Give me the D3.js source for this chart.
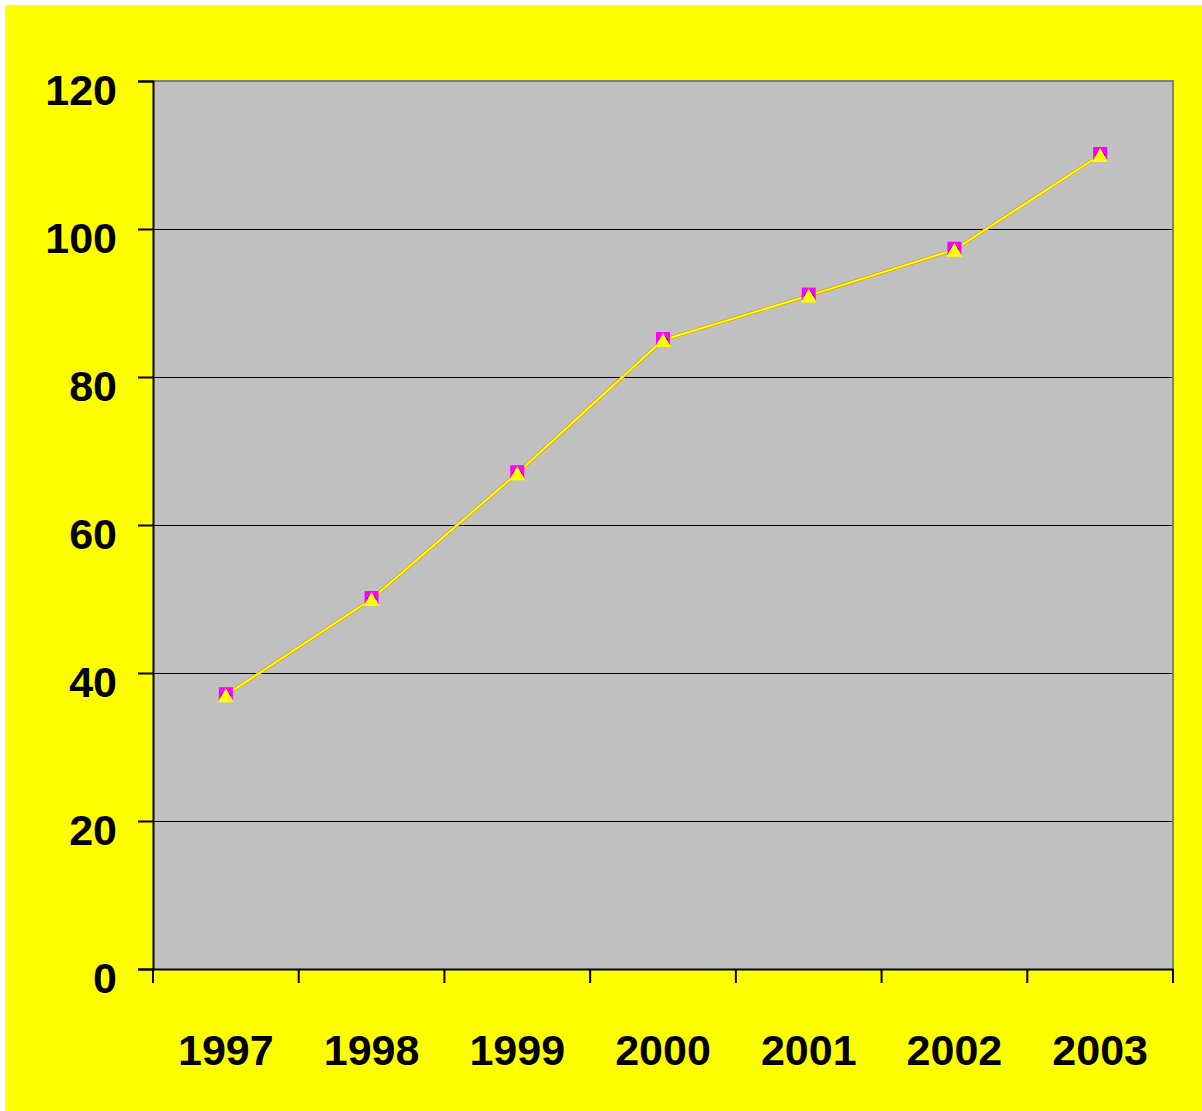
<!DOCTYPE html>
<html><head><meta charset="utf-8">
<script src="https://cdn.jsdelivr.net/npm/d3@7"></script>
<style>html,body{margin:0;padding:0;background:#fff;}svg{display:block;}</style>
</head><body>
<svg id="chart" width="1202" height="1111"></svg>
<script>
const years = ["1997","1998","1999","2000","2001","2002","2003"];
const values = [37, 50, 67, 85, 91, 97.2, 110];
const yTicks = [0, 20, 40, 60, 80, 100, 120];

const svg = d3.select("#chart");
svg.append("rect").attr("x",5).attr("y",5).attr("width",1197).attr("height",1106).attr("fill","#FFFF00");

const L=153, T=81, R=1173, B=969;
const x = d3.scaleBand().domain(years).range([L,R]).padding(0);
const y = d3.scaleLinear().domain([0,120]).range([B,T]);

svg.append("rect").attr("x",L).attr("y",T).attr("width",R-L).attr("height",B-T).attr("fill","#C0C0C0");
// gridlines
svg.append("g").selectAll("line").data(yTicks.filter(d=>d>0&&d<120)).join("line")
  .attr("x1",L).attr("x2",R).attr("y1",d=>y(d)).attr("y2",d=>y(d))
  .attr("stroke","#000").attr("stroke-width",1).attr("shape-rendering","crispEdges");
// plot border top/right gray
svg.append("path").attr("d",`M${L},${T} H${R} V${B}`).attr("fill","none").attr("stroke","#808080").attr("stroke-width",2);

// y axis
const yAxis = d3.axisLeft(y).tickValues(yTicks).tickSize(15).tickPadding(0).tickFormat(d3.format("d"));
const gy = svg.append("g").attr("transform",`translate(${L},0)`).call(yAxis);
gy.select(".domain").attr("stroke","#000").attr("stroke-width",2);
gy.selectAll(".tick line").attr("stroke","#000").attr("stroke-width",2);
gy.selectAll(".tick text").attr("x",-36).attr("dy",null).attr("y",23)
  .attr("font-family","'Liberation Sans', Arial, sans-serif").attr("font-weight","bold")
  .attr("font-size",43).attr("fill","#000").attr("text-anchor","end");

// x axis
const xAxis = d3.axisBottom(x).tickSize(0).tickPadding(0);
const gx = svg.append("g").attr("transform",`translate(0,${B})`).call(xAxis);
gx.select(".domain").attr("stroke","#000").attr("stroke-width",2);
gx.selectAll(".tick text").attr("y",96).attr("dy",null)
  .attr("font-family","'Liberation Sans', Arial, sans-serif").attr("font-weight","bold")
  .attr("font-size",43).attr("fill","#000").attr("text-anchor","middle");
// boundary ticks
const bounds = years.map(d=>x(d)).concat([R]);
svg.append("g").selectAll("line").data(bounds).join("line")
  .attr("x1",d=>d).attr("x2",d=>d).attr("y1",B).attr("y2",B+14)
  .attr("stroke","#000").attr("stroke-width",2);

const cx = d => x(d) + x.bandwidth()/2;
const pts = years.map((d,i)=>[cx(d), y(values[i])]);
const line = d3.line();

// underlying series lines (hidden beneath the yellow series)
svg.append("path").attr("d",line(pts)).attr("fill","none").attr("stroke","#D89A00").attr("stroke-width",3.2);
// series 3: yellow with triangles
svg.append("path").attr("d",line(pts)).attr("fill","none").attr("stroke","#FFFF00").attr("stroke-width",2);

svg.append("g").selectAll("rect").data(pts).join("rect")
  .attr("x",d=>d[0]-7).attr("y",d=>d[1]-8).attr("width",14).attr("height",14).attr("fill","#FF00FF");
svg.append("g").selectAll("path").data(pts).join("path")
  .attr("d",d=>`M${d[0]},${d[1]-6} L${d[0]+5},${d[1]} L${d[0]},${d[1]+6} L${d[0]-5},${d[1]} Z`)
  .attr("fill","#000080");
svg.append("g").selectAll("path.tri").data(pts).join("path")
  .attr("d",d=>`M${d[0]},${d[1]-7} L${d[0]+8},${d[1]+7} L${d[0]-8},${d[1]+7} Z`)
  .attr("fill","#FFFF00");
</script>
</body></html>
